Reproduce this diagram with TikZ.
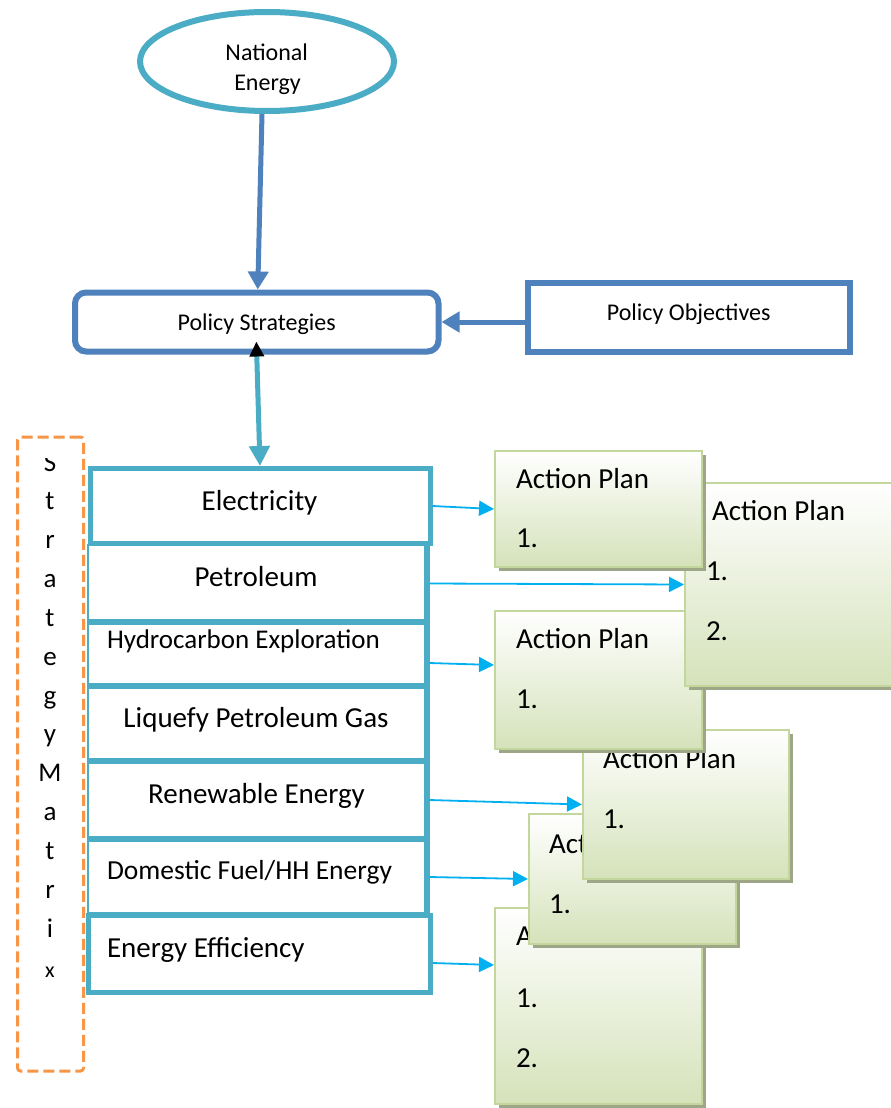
\documentclass[tikz,border=0pt]{standalone}
\usepackage{fontspec}
\setmainfont{Carlito}
\usetikzlibrary{shapes.geometric,arrows.meta,shadows}
\definecolor{tealA}{RGB}{75,172,198}
\definecolor{blueA}{RGB}{79,129,189}
\definecolor{orangeA}{RGB}{247,150,70}
\definecolor{cyanA}{RGB}{0,176,240}
\definecolor{apborder}{RGB}{195,214,155}
\definecolor{apfill}{RGB}{213,226,186}
\definecolor{apshadow}{RGB}{158,166,136}
\newcommand{\fsz}[1]{\fontsize{#1}{#1}\selectfont}
\begin{document}
\begin{tikzpicture}[x=1pt,y=-1pt,
  txt/.style={inner sep=0pt,outer sep=0pt},
  ellip/.style={ellipse, draw=tealA, line width=6pt, inner sep=0pt, minimum width=254pt, minimum height=99pt},
  psbox/.style={rectangle, rounded corners=11pt, draw=blueA, line width=6pt, inner sep=0pt},
  pobox/.style={rectangle, draw=blueA, line width=6pt, inner sep=0pt},
  thickbox/.style={rectangle, draw=tealA, line width=5pt, inner sep=0pt},
  midbox/.style={rectangle, draw=tealA, line width=2pt, inner sep=0pt, outer sep=0pt, minimum width=338.5pt},
  edgeline/.style={tealA, line width=6pt},
  apbox/.style={rectangle, draw=apborder, line width=2pt, top color=white, bottom color=apfill, inner sep=0pt,
    drop shadow={shadow xshift=4pt, shadow yshift=-4pt, fill=apshadow, opacity=1}},
  aptxt/.style={txt, font=\fsz{29}, anchor=base west},
  bigarrow/.style={line width=5pt, -{Triangle[length=18pt,width=20pt]}},
  smallarrow/.style={cyanA, line width=1.8pt, -{Triangle[length=15pt,width=15pt]}},
  mlet/.style={txt, font=\fsz{27}, anchor=base},
  cbig/.style={txt, font=\fsz{29}, anchor=base},
  lbig/.style={txt, font=\fsz{29}, anchor=base west},
  matrixbox/.style={rectangle, draw=orangeA, line width=3pt, dash pattern=on 11pt off 5pt, rounded corners=3pt, inner sep=0pt}
]
\path[use as bounding box, fill=white] (0,0) rectangle (891,1108);

% top ellipse
\node[ellip] (ne) at (267,61.5) {};
\begin{scope}
  \clip (130,0) rectangle (400,94);
  \node[txt, font=\fsz{24}, anchor=base] (ne1) at (266.7,61) {National};
  \node[txt, font=\fsz{24}, anchor=base] (ne2) at (267.5,90) {Energy};
\end{scope}

% policy boxes
\node[psbox, minimum width=363.5pt, minimum height=59pt] (ps) at (256.75,322) {};
\node[txt, font=\fsz{24}, anchor=base] (pst) at (256.7,330) {Policy Strategies};
\node[pobox, minimum width=322.5pt, minimum height=69.5pt] (po) at (688.75,317.25) {};
\node[txt, font=\fsz{24}, anchor=base] (pot) at (688.7,320) {Policy Objectives};

\draw[bigarrow, blueA] ([xshift=-5pt]ne.south) -- ([xshift=1pt]ps.north);
\draw[bigarrow, blueA] (po.west |- ps.east) -- (ps.east);

% strategy matrix
\node[matrixbox, minimum width=66pt, minimum height=634pt] (sm) at (50.5,754) {};
\begin{scope}
  \clip (0,458) rectangle (100,1100);
  \foreach \l [count=\i from 0] in {S,t,r,a,t,e,g,y,M,a,t,r,i}
    \node[mlet] (ml\i) at (50,{471+38.85*\i}) {\l};
  \node[mlet, font=\fsz{22}] (mlx) at (50,977) {x};
\end{scope}

% strategy boxes
\node[midbox, minimum height=77pt] (pet) at (257.25,583.5) {};
\node[midbox, minimum height=64pt] (hyd) at (257.25,654) {};
\node[midbox, minimum height=75pt] (liq) at (257.25,723.5) {};
\node[midbox, minimum height=78pt] (ren) at (257.25,800) {};
\node[midbox, minimum height=76pt] (dom) at (257.25,877) {};
\foreach \n in {pet,hyd,liq,ren,dom}
  \draw[edgeline] (\n.north east) -- (\n.south east) -- (\n.south west);
\node[thickbox, minimum width=340pt, minimum height=75pt] (elec) at (260,506) {};
\node[thickbox, minimum width=342pt, minimum height=77pt] (ee) at (259.5,954) {};

\node[cbig] (elect) at (259.5,510) {Electricity};
\node[cbig] (pett) at (256,586) {Petroleum};
\node[txt, font=\fsz{27}, anchor=base west] (hydt) at (107,648) {Hydrocarbon Exploration};
\node[cbig] (liqt) at (256,727) {Liquefy Petroleum Gas};
\node[cbig] (rent) at (256.5,803) {Renewable Energy};
\node[txt, font=\fsz{27.5}, anchor=base west] (domt) at (107,879) {Domestic Fuel/HH Energy};
\node[lbig] (eet) at (107,957) {Energy Efficiency};

\draw[tealA, line width=5pt, {Triangle[color=black,length=15pt,width=14pt]}-{Triangle[length=20pt,width=20pt]}, shorten <=-13pt] (ps.south) -- (elec.north);

% action plans (bottom to top)
\node[apbox, minimum width=207pt, minimum height=196pt] (ap6) at (598.5,1006) {};
\node[aptxt] (ap6a) at (516,945) {Action Plan};
\node[aptxt] (ap6b) at (516,1007) {1.};
\node[aptxt] (ap6c) at (516,1067) {2.};

\node[apbox, minimum width=207pt, minimum height=130pt] (ap5) at (632.5,879) {};
\node[aptxt] (ap5a) at (549,853) {Action Plan};
\node[aptxt] (ap5b) at (549,913) {1.};

\node[apbox, minimum width=206pt, minimum height=149pt] (ap4) at (686,804.5) {};
\node[aptxt] (ap4a) at (603,768) {Action Plan};
\node[aptxt] (ap4b) at (603,828) {1.};

\node[apbox, minimum width=207pt, minimum height=138pt] (ap3) at (598.5,680) {};
\node[aptxt] (ap3a) at (516,648) {Action Plan};
\node[aptxt] (ap3b) at (516,708) {1.};

\node[apbox, minimum width=224pt, minimum height=203pt] (ap2) at (797,584.5) {};
\node[aptxt] (ap2a) at (712,520) {Action Plan};
\node[aptxt] (ap2b) at (706,580) {1.};
\node[aptxt] (ap2c) at (706,640) {2.};

\node[apbox, minimum width=207pt, minimum height=116pt] (ap1) at (598.5,509) {};
\node[aptxt] (ap1a) at (516,488) {Action Plan};
\node[aptxt] (ap1b) at (516,547) {1.};

% connectors
\draw[smallarrow] (elec.east) -- (ap1.west);
\draw[smallarrow] ([xshift=3pt]pet.east) -- (ap2.west);
\draw[smallarrow] ([xshift=3pt,yshift=-9pt]hyd.east) -- ([yshift=15pt]ap3.west);
\draw[smallarrow] ([xshift=3pt]ren.east) -- (ap4.west);
\draw[smallarrow] ([xshift=3pt]dom.east) -- (ap5.west);
\draw[smallarrow] ([yshift=-9pt]ee.east) -- ([yshift=41pt]ap6.west);
\end{tikzpicture}
\end{document}
